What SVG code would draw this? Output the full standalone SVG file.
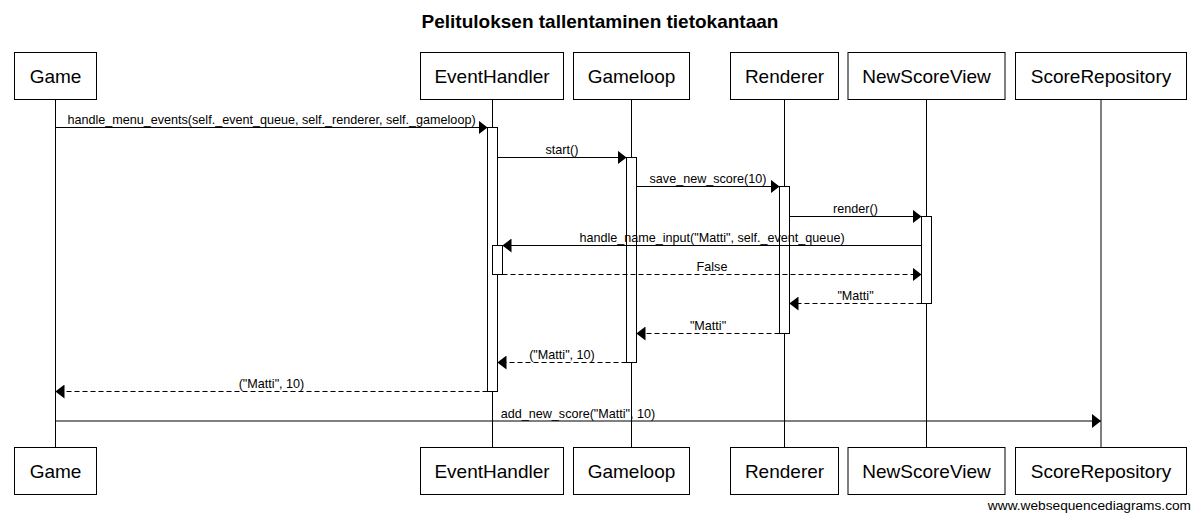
<svg xmlns="http://www.w3.org/2000/svg" width="1200" height="526" viewBox="0 0 1200 526">
<style>
text{font-family:"Liberation Sans",Arial,sans-serif;fill:#000}
.title{font-size:19px;font-weight:bold}
.box{fill:#fff;stroke:#000;stroke-width:1}
.name{font-size:19px;text-anchor:middle}
.life{stroke:#000;stroke-width:1}
.act{fill:#fff;stroke:#000;stroke-width:1}
.msg{stroke:#000;stroke-width:1;fill:none;marker-end:url(#ah)}
.ret{stroke:#000;stroke-width:1;fill:none;stroke-dasharray:5,3;marker-end:url(#ah)}
.lbl{font-size:12.6px;text-anchor:middle}
.foot{font-size:13.7px;text-anchor:end}
</style>
<defs>
<marker id="ah" viewBox="0 0 9 14" refX="9" refY="7" markerWidth="9" markerHeight="14" markerUnits="userSpaceOnUse" orient="auto">
<path d="M0,0 L9,7 L0,14 z" fill="#000" stroke="none"/>
</marker>
</defs>
<rect width="1200" height="526" fill="#fff"/>
<text class="title" x="600" y="28" text-anchor="middle">Pelituloksen tallentaminen tietokantaan</text>

<g id="lifelines">
<line class="life" x1="55.5" y1="99.5" x2="55.5" y2="447.5"/>
<line class="life" x1="492.5" y1="99.5" x2="492.5" y2="447.5"/>
<line class="life" x1="631.5" y1="99.5" x2="631.5" y2="447.5"/>
<line class="life" x1="784.5" y1="99.5" x2="784.5" y2="447.5"/>
<line class="life" x1="926.5" y1="99.5" x2="926.5" y2="447.5"/>
<line class="life" x1="1101" y1="99.5" x2="1101" y2="447.5"/>
</g>

<g id="Game">
<rect class="box" x="14.5" y="52.5" width="82" height="47"/>
<text class="name" x="55.5" y="82.5">Game</text>
<rect class="box" x="14.5" y="447.5" width="82" height="47"/>
<text class="name" x="55.5" y="477.5">Game</text>
</g>
<g id="EventHandler">
<rect class="box" x="420.5" y="52.5" width="143" height="47"/>
<text class="name" x="492" y="82.5">EventHandler</text>
<rect class="box" x="420.5" y="447.5" width="143" height="47"/>
<text class="name" x="492" y="477.5">EventHandler</text>
<rect class="act" x="487.5" y="127.5" width="10" height="264"/>
<rect class="act" x="492.5" y="245.5" width="10" height="29"/>
</g>
<g id="Gameloop">
<rect class="box" x="573.5" y="52.5" width="116" height="47"/>
<text class="name" x="631.5" y="82.5">Gameloop</text>
<rect class="box" x="573.5" y="447.5" width="116" height="47"/>
<text class="name" x="631.5" y="477.5">Gameloop</text>
<rect class="act" x="626.5" y="157.5" width="10" height="205"/>
</g>
<g id="Renderer">
<rect class="box" x="730.5" y="52.5" width="108" height="47"/>
<text class="name" x="784.5" y="82.5">Renderer</text>
<rect class="box" x="730.5" y="447.5" width="108" height="47"/>
<text class="name" x="784.5" y="477.5">Renderer</text>
<rect class="act" x="779.5" y="186.5" width="10" height="147"/>
</g>
<g id="NewScoreView">
<rect class="box" x="848" y="52.5" width="157" height="47"/>
<text class="name" x="926.5" y="82.5">NewScoreView</text>
<rect class="box" x="848" y="447.5" width="157" height="47"/>
<text class="name" x="926.5" y="477.5">NewScoreView</text>
<rect class="act" x="921.5" y="216.5" width="10" height="87"/>
</g>
<g id="ScoreRepository">
<rect class="box" x="1015.5" y="52.5" width="171" height="47"/>
<text class="name" x="1101" y="82.5">ScoreRepository</text>
<rect class="box" x="1015.5" y="447.5" width="171" height="47"/>
<text class="name" x="1101" y="477.5">ScoreRepository</text>
</g>

<g id="connectors">
<line class="msg" x1="55.5" y1="127.5" x2="487.5" y2="127.5"/>
<text class="lbl" x="271.5" y="124">handle_menu_events(self._event_queue, self._renderer, self._gameloop)</text>
<line class="msg" x1="497.5" y1="157.5" x2="626.5" y2="157.5"/>
<text class="lbl" x="562" y="154">start()</text>
<line class="msg" x1="636.5" y1="186.5" x2="779.5" y2="186.5"/>
<text class="lbl" x="708" y="183">save_new_score(10)</text>
<line class="msg" x1="789.5" y1="216.5" x2="921.5" y2="216.5"/>
<text class="lbl" x="855.5" y="213">render()</text>
<line class="msg" x1="921.5" y1="245.5" x2="502.5" y2="245.5"/>
<text class="lbl" x="712" y="242">handle_name_input("Matti", self._event_queue)</text>
<line class="ret" x1="502.5" y1="274.5" x2="921.5" y2="274.5"/>
<text class="lbl" x="712" y="271">False</text>
<line class="ret" x1="921.5" y1="303.5" x2="789.5" y2="303.5"/>
<text class="lbl" x="855.5" y="300">"Matti"</text>
<line class="ret" x1="779.5" y1="333.5" x2="636.5" y2="333.5"/>
<text class="lbl" x="708" y="330">"Matti"</text>
<line class="ret" x1="626.5" y1="362.5" x2="497.5" y2="362.5"/>
<text class="lbl" x="562" y="359">("Matti", 10)</text>
<line class="ret" x1="487.5" y1="391.5" x2="55.5" y2="391.5"/>
<text class="lbl" x="271.5" y="388">("Matti", 10)</text>
<line class="msg" x1="55.5" y1="421" x2="1101" y2="421"/>
<text class="lbl" x="578" y="417.5">add_new_score("Matti", 10)</text>
</g>

<text class="foot" x="1191" y="510">www.websequencediagrams.com</text>
</svg>
